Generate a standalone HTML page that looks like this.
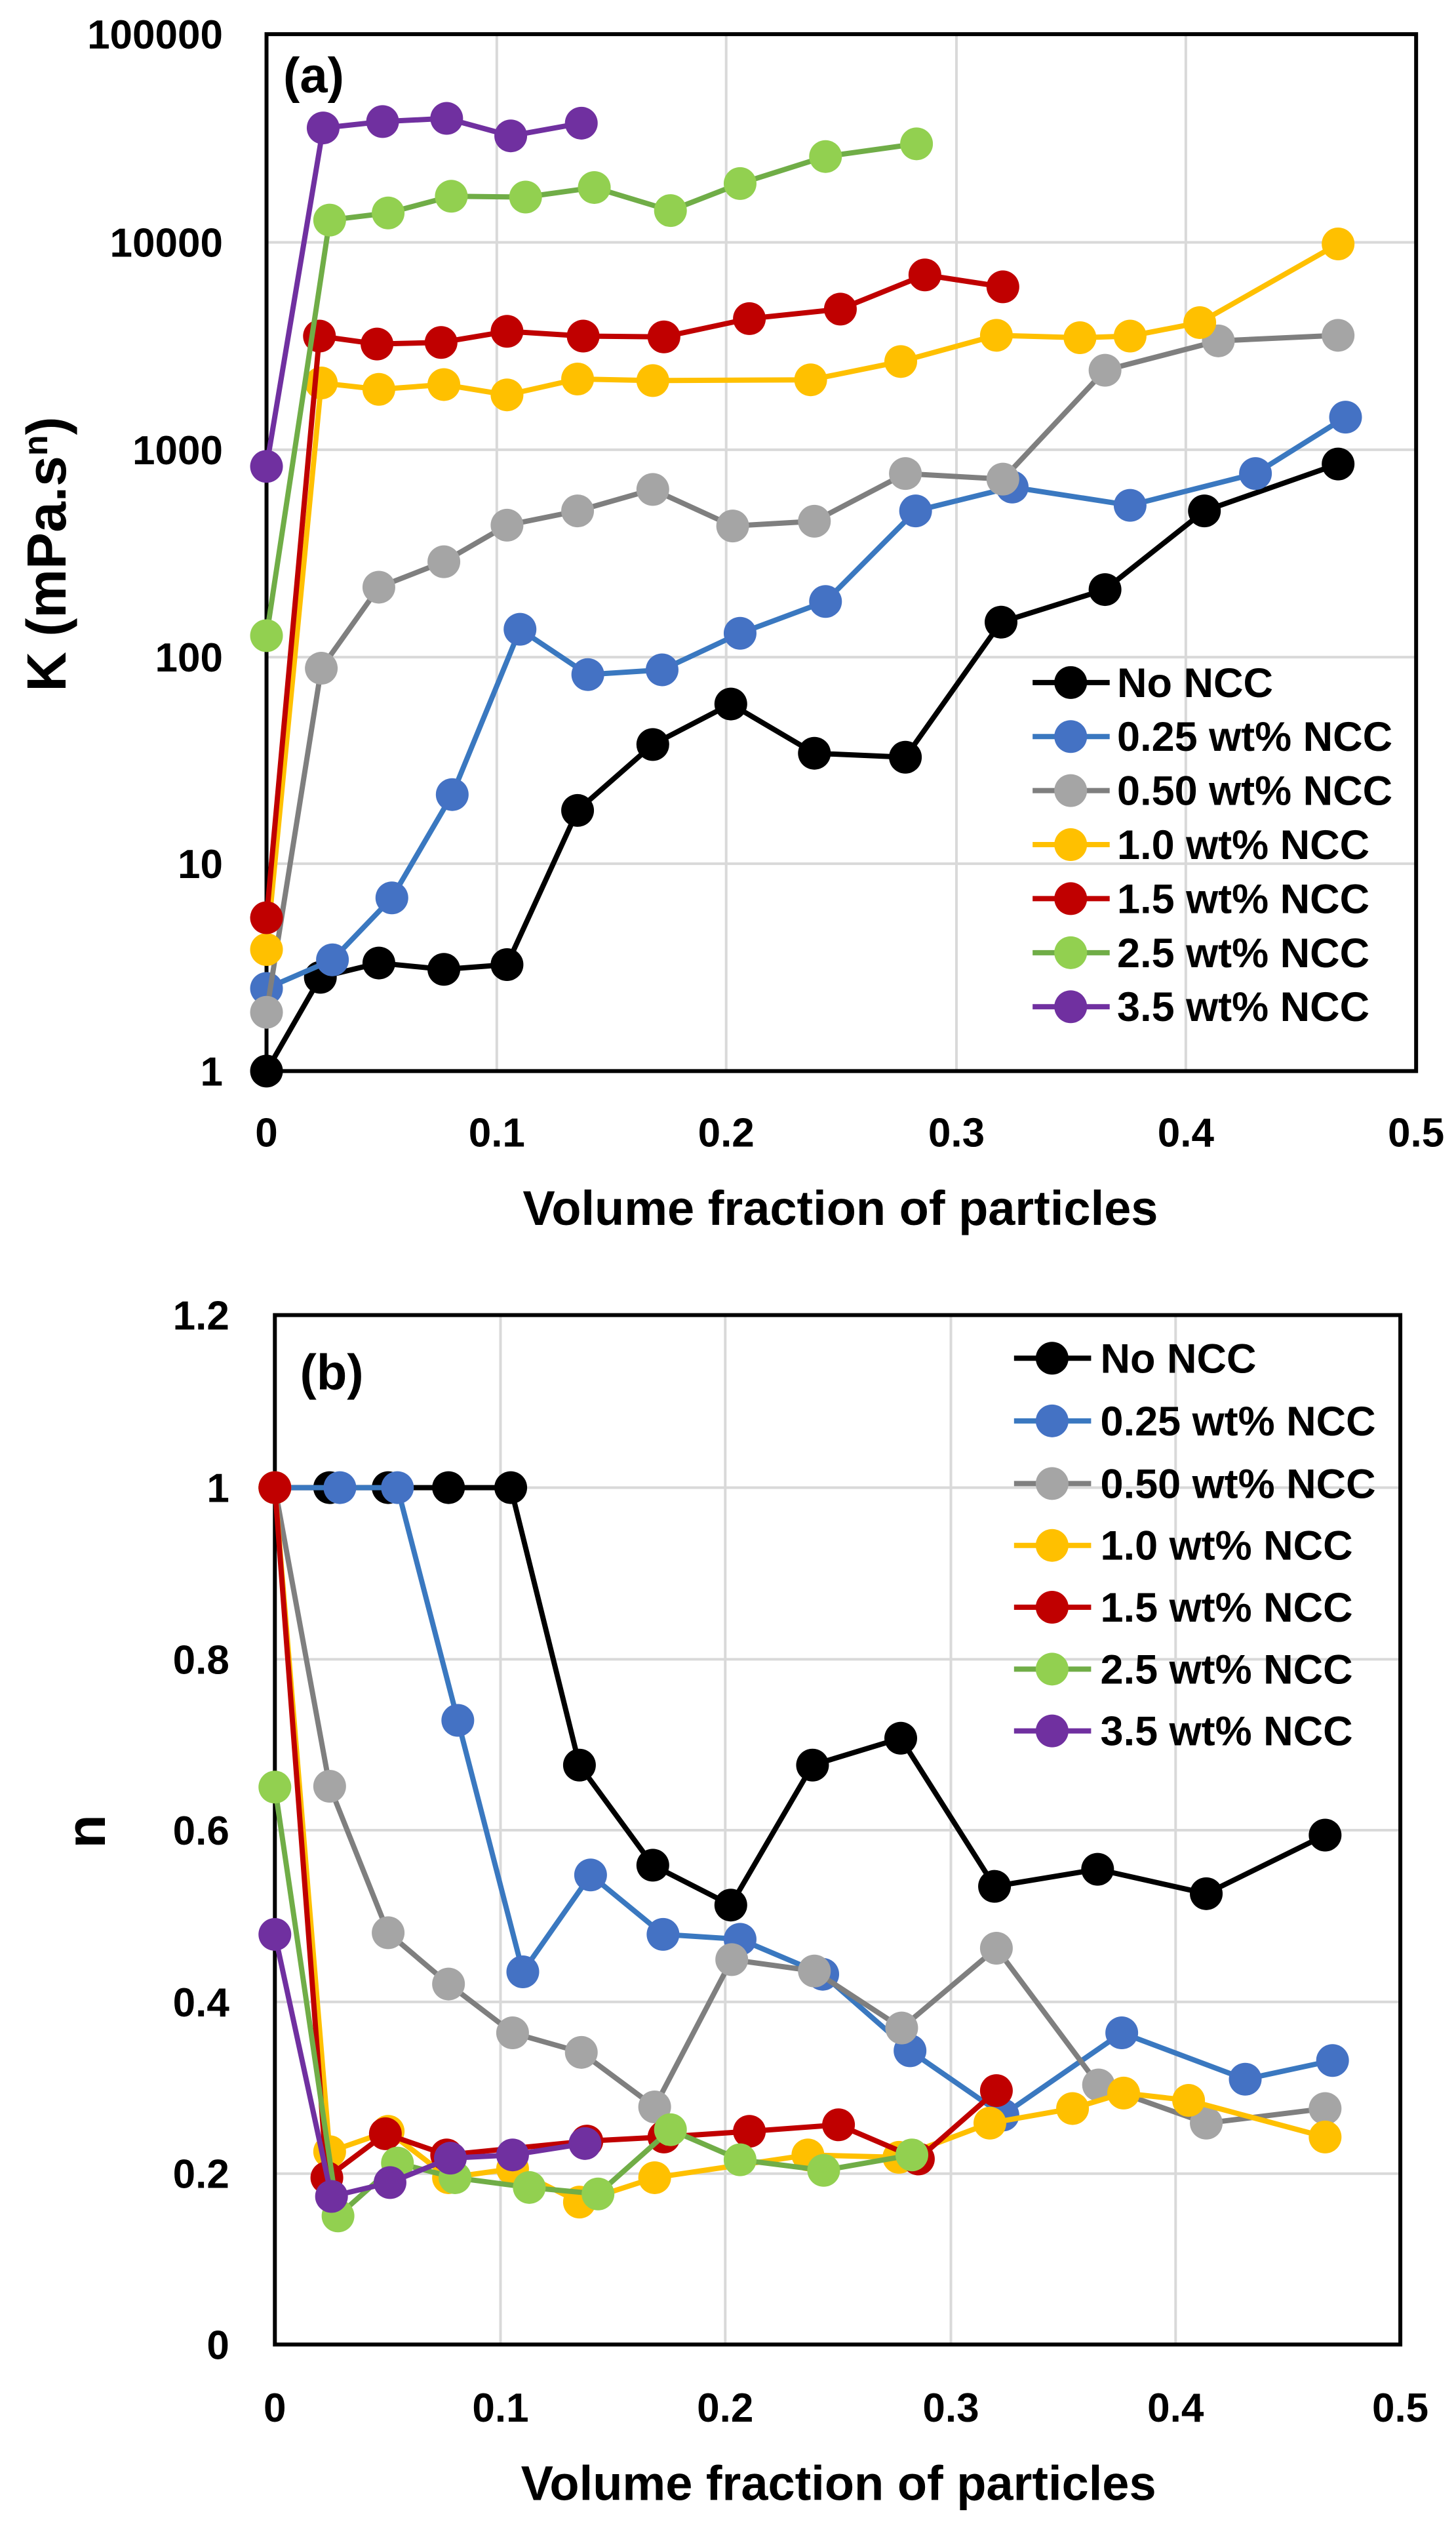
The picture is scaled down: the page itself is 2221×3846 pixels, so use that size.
<!DOCTYPE html>
<html><head><meta charset="utf-8"><style>
html,body{margin:0;padding:0;background:#fff;}
svg{display:block;}
text{font-family:"Liberation Sans",sans-serif;font-weight:bold;fill:#000;}
</style></head><body>
<svg id="s" width="2221" height="3846" viewBox="0 0 2221 3846" xmlns="http://www.w3.org/2000/svg">
<rect width="2221" height="3846" fill="#fff"/>
</svg>
<script>
(function(){
const S=document.getElementById('s');const NS='http://www.w3.org/2000/svg';
function el(t,a,txt){const e=document.createElementNS(NS,t);for(const k in a)e.setAttribute(k,a[k]);if(txt!==undefined)e.textContent=txt;S.appendChild(e);return e;}
const KX=1.4165;
function A(p){return [p[0]*KX,p[1]*1.2117];}
function B(p){return [p[0]*KX,1900+p[1]*1.241];}
const col={k:'#000',b:'#4472c4',g:'#a5a5a5',y:'#ffc000',r:'#c00000',gr:'#92d050',p:'#7030a0'};
const lcol={k:'#000',b:'#3a78c0',g:'#7f7f7f',y:'#ffc000',r:'#c00000',gr:'#70ad47',p:'#7030a0'};
function panel(T,box,gx,gy,yl,xl,series,leg,title,ytitle,ylab,ytsize){
  gx.forEach(x=>{const a=T([x,box[1]]),b=T([x,box[3]]);el('line',{x1:a[0],y1:a[1],x2:b[0],y2:b[1],stroke:'#d9d9d9','stroke-width':4});});
  gy.forEach(y=>{const a=T([box[0],y]),b=T([box[2],y]);el('line',{x1:a[0],y1:a[1],x2:b[0],y2:b[1],stroke:'#d9d9d9','stroke-width':4});});
  const p0=T([box[0],box[1]]),p1=T([box[2],box[3]]);
  el('rect',{x:p0[0],y:p0[1],width:p1[0]-p0[0],height:p1[1]-p0[1],fill:'none',stroke:'#000','stroke-width':6});
  series.forEach(s=>{const pts=s[1].map(T);
    el('polyline',{points:pts.map(p=>p.join(',')).join(' '),fill:'none',stroke:lcol[s[0]],'stroke-width':8,'stroke-linejoin':'round'});
    pts.forEach(p=>el('circle',{cx:p[0],cy:p[1],r:25,fill:col[s[0]]}));
  });
  yl.forEach(t=>{const p=T([t[0],t[1]]);el('text',{x:p[0],y:p[1]+22,'text-anchor':'end','font-size':62},t[2]);});
  xl.forEach(t=>{const p=T([t[0],t[1]]);el('text',{x:p[0],y:p[1]+22,'text-anchor':'middle','font-size':62},t[2]);});
  const names=['No NCC','0.25 wt% NCC','0.50 wt% NCC','1.0 wt% NCC','1.5 wt% NCC','2.5 wt% NCC','3.5 wt% NCC'];
  const keys=['k','b','g','y','r','gr','p'];
  leg.ys.forEach((y,i)=>{const a=T([leg.x0,y]),b=T([leg.x1,y]),m=T([leg.m,y]),t=T([leg.t,y]);
    el('line',{x1:a[0],y1:a[1],x2:b[0],y2:b[1],stroke:lcol[keys[i]],'stroke-width':8});
    el('circle',{cx:m[0],cy:m[1],r:25,fill:col[keys[i]]});
    el('text',{x:t[0],y:t[1]+22,'font-size':63},names[i]);});
  const tp=T(title[0]);el('text',{x:tp[0],y:tp[1]+26,'font-size':76},title[1]);
  const xt=T(ylab.xt);el('text',{x:xt[0],y:xt[1]+26,'text-anchor':'middle','font-size':74},'Volume fraction of particles');
  const g=el('text',{x:0,y:0,'text-anchor':'middle','font-size':ytsize,transform:`translate(${ylab.yt[0]},${ylab.yt[1]}) rotate(-90)`});
  g.innerHTML=ytitle;
}
panel(A,[287,43,1525,1348],[535,782,1030,1277],[305,566,827,1087],
 [[240,43,'100000'],[240,305,'10000'],[240,566,'1000'],[240,827,'100'],[240,1087,'10'],[240,1348,'1']],
 [[287,1425,'0'],[535,1425,'0.1'],[782,1425,'0.2'],[1030,1425,'0.3'],[1277,1425,'0.4'],[1525,1425,'0.5']],
 [
 ['k',[[287,1348],[345,1230],[408,1212],[478,1220],[546,1214],[622,1020],[703,937],[787,886],[877,948],[975,953],[1078,783],[1190,742],[1297,643],[1441,584]]],
 ['b',[[287,1244],[358,1208],[422,1130],[487,1000],[560,792],[633,849],[713,843],[797,797],[889,757],[986,643],[1090,613],[1217,636],[1352,596],[1449,525]]],
 ['g',[[287,1274],[346,841],[408,739],[478,707],[546,661],[622,643],[703,616],[789,662],[877,656],[975,596],[1080,603],[1190,466],[1312,429],[1441,422]]],
 ['y',[[287,1195],[346,482],[408,490],[478,484],[546,497],[622,477],[703,479],[873,478],[970,455],[1073,422],[1163,425],[1217,423],[1292,406],[1441,307]]],
 ['r',[[287,1155],[344,423],[406,433],[475,431],[546,417],[628,423],[715,424],[807,401],[905,389],[996,346],[1080,361]]],
 ['gr',[[287,800],[355,277],[418,268],[486,247],[566,248],[640,236],[722,265],[797,231],[889,197],[987,181]]],
 ['p',[[287,587],[348,161],[412,153],[481,149],[550,171],[626,155]]]
 ],
 {x0:1112,x1:1195,m:1153,t:1203,ys:[859,927,995,1063,1131,1199,1267]},
 [[305,95],'(a)'],'K (mPa.s<tspan dy="-28" font-size="52">n</tspan><tspan dy="28">)</tspan>',
 {xt:[905,1520],yt:[100,845]},84);
panel(B,[296,85,1508,1350],[539,781,1024,1266],[297,508,718,929,1140],
 [[247,85,'1.2'],[247,297,'1'],[247,508,'0.8'],[247,718,'0.6'],[247,929,'0.4'],[247,1140,'0.2'],[247,1350,'0']],
 [[296,1427,'0'],[539,1427,'0.1'],[781,1427,'0.2'],[1024,1427,'0.3'],[1266,1427,'0.4'],[1508,1427,'0.5']],
 [
 ['k',[[296,297],[355,297],[418,297],[483,297],[550,297],[624,638],[703,761],[787,810],[875,638],[970,605],[1071,787],[1182,766],[1299,796],[1427,724]]],
 ['b',[[296,297],[366,297],[428,297],[493,583],[563,892],[636,773],[714,846],[797,852],[886,895],[980,989],[1080,1068],[1208,967],[1341,1024],[1435,1001]]],
 ['g',[[296,297],[355,664],[418,844],[483,907],[552,967],[626,991],[705,1058],[788,877],[877,891],[971,961],[1073,863],[1183,1031],[1299,1078],[1427,1060]]],
 ['y',[[296,297],[355,1113],[418,1088],[483,1145],[552,1134],[624,1175],[705,1145],[870,1117],[968,1120],[1066,1078],[1155,1060],[1210,1041],[1280,1050],[1427,1095]]],
 ['r',[[296,297],[352,1145],[415,1091],[481,1117],[632,1100],[715,1095],[807,1088],[903,1080],[989,1122],[1073,1038]]],
 ['gr',[[296,665],[364,1192],[428,1127],[490,1145],[570,1157],[644,1165],[722,1086],[797,1123],[887,1136],[982,1117]]],
 ['p',[[296,846],[357,1168],[420,1151],[485,1121],[552,1117],[630,1103]]]
 ],
 {x0:1092,x1:1175,m:1133,t:1185,ys:[138,215,292,368,444,520,596]},
 [[323,155],'(b)'],'n',
 {xt:[903,1520],yt:[160,2793]},84);
})();
</script>
</body></html>
